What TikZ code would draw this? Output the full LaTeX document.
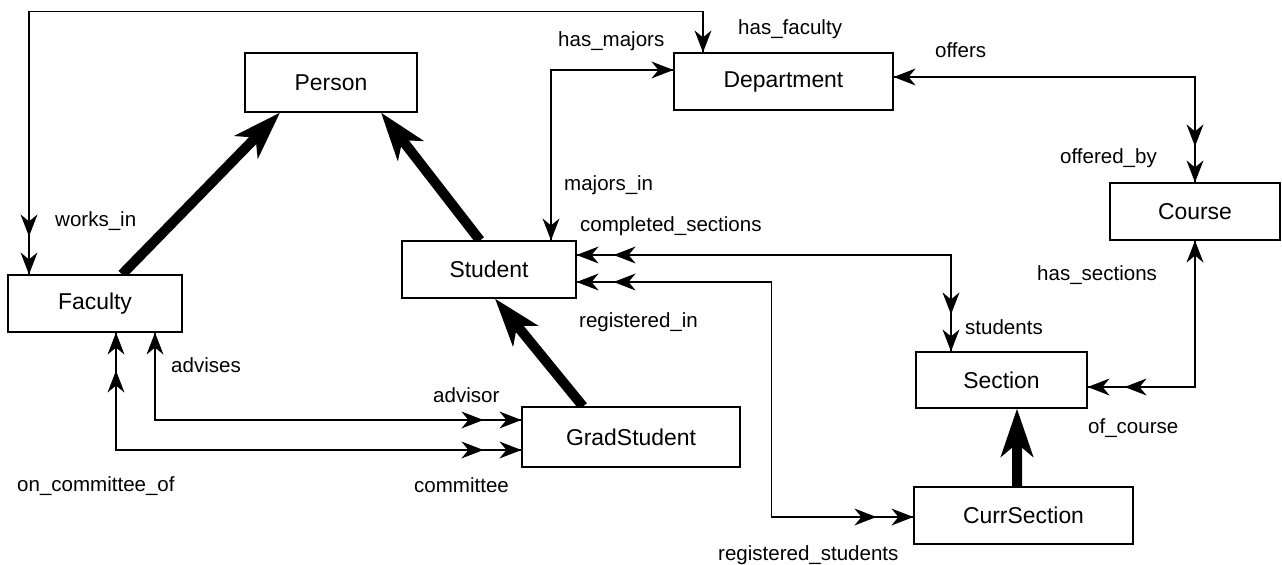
\documentclass[tikz,border=0pt]{standalone}
\usepackage{fontspec}
\setmainfont{Liberation Sans}
\usetikzlibrary{arrows.meta,backgrounds}
\newcommand\labfont{\fontsize{20.6}{24}\selectfont}
\newcommand\boxfont{\fontsize{23}{27}\selectfont}
\tikzset{
  hR/.pic={\fill (0,0) -- (-22,-8.5) -- (-15,0) -- (-22,8.5) -- cycle;},
  hL/.pic={\fill (0,0) -- (22,-8.5) -- (15,0) -- (22,8.5) -- cycle;},
  hD/.pic={\fill (0,0) -- (-8.5,-22) -- (0,-15) -- (8.5,-22) -- cycle;},
  hU/.pic={\fill (0,0) -- (-8.5,22) -- (0,15) -- (8.5,22) -- cycle;},
  box/.style={draw, line width=1.2bp, fill=white, inner sep=0pt, font=\boxfont},
  lab/.style={font=\labfont, inner sep=0pt, anchor=base west},
  conn/.style={line width=1.1bp},
  isa/.style={line width=10bp, arrows={-Stealth[length=48pt,width=32pt,inset=13pt]}},
}
\begin{document}
\begin{tikzpicture}[x=1bp,y=-1bp]
\useasboundingbox (0,0) rectangle (1282,565);
% boxes
\node[box, minimum width=172bp, minimum height=59bp] (person) at (331,82.5) {Person};
\node[box, minimum width=219bp, minimum height=57bp] (dept) at (783.5,81.5) {Department};
\node[box, minimum width=170bp, minimum height=57bp] (course) at (1195,211.5) {Course};
\node[box, minimum width=174bp, minimum height=57bp] (faculty) at (95,303.5) {Faculty};
\node[box, minimum width=174bp, minimum height=57bp] (student) at (489,269.5) {Student};
\node[box, minimum width=218bp, minimum height=60bp] (grad) at (631,437) {GradStudent};
\node[box, minimum width=171bp, minimum height=56bp] (section) at (1001.5,380) {Section};
\node[box, minimum width=219bp, minimum height=57bp] (curr) at (1023.5,515.5) {CurrSection};

\begin{scope}[on background layer]
% isa arrows
\draw[isa] ([xshift=27bp]faculty.north) -- ([xshift=-51bp]person.south);
\draw[isa] ([xshift=-9bp]student.north) -- ([xshift=50bp]person.south);
\draw[isa] ([xshift=-48bp]grad.north) -- ([xshift=6bp]student.south);
\draw[isa] ([xshift=-6.5bp]curr.north) -- ([xshift=15.5bp]section.south);
% relationships
\draw[conn] ([xshift=-80.5bp]dept.north) -- ++(0,-41) -| ([xshift=-66bp]faculty.north);
\draw[conn] ([xshift=62bp]student.north) |- ([yshift=11.5bp]dept.west);
\draw[conn] ([yshift=4.5bp]dept.east) -| (course.north);
\draw[conn] (course.south) |- ([yshift=-7bp]section.east);
\draw[conn] ([yshift=14.5bp]student.east) -| ([xshift=-50.5bp]section.north);
\draw[conn] ([yshift=-12.5bp]student.east) -- ++(195,0) |- ([yshift=-1.5bp]curr.west);
\draw[conn] ([xshift=60bp]faculty.south) |- ([yshift=17bp]grad.west);
\draw[conn] ([xshift=21bp]faculty.south) |- ([yshift=-13bp]grad.west);
\end{scope}

% arrowheads
\pic at ([xshift=-80.5bp]dept.north) {hD};
\pic at ([xshift=-66bp]faculty.north) {hD};
\pic at ([xshift=-66bp,yshift=38bp]faculty.north) {hD};
\pic at ([xshift=62bp]student.north) {hD};
\pic at ([yshift=11.5bp]dept.west) {hR};
\pic at ([yshift=4.5bp]dept.east) {hL};
\pic at (course.north) {hD};
\pic at ([yshift=36bp]course.north) {hD};
\pic at (course.south) {hU};
\pic at ([yshift=-7bp]section.east) {hL};
\pic at ([xshift=37bp,yshift=-7bp]section.east) {hL};
\pic at ([yshift=14.5bp]student.east) {hL};
\pic at ([xshift=37bp,yshift=14.5bp]student.east) {hL};
\pic at ([xshift=-50.5bp]section.north) {hD};
\pic at ([xshift=-50.5bp,yshift=37bp]section.north) {hD};
\pic at ([yshift=-12.5bp]student.east) {hL};
\pic at ([xshift=37bp,yshift=-12.5bp]student.east) {hL};
\pic at ([yshift=-1.5bp]curr.west) {hR};
\pic at ([xshift=-37bp,yshift=-1.5bp]curr.west) {hR};
\pic at ([xshift=60bp]faculty.south) {hU};
\pic at ([yshift=17bp]grad.west) {hR};
\pic at ([xshift=-38bp,yshift=17bp]grad.west) {hR};
\pic at ([xshift=21bp]faculty.south) {hU};
\pic at ([xshift=21bp,yshift=-38bp]faculty.south) {hU};
\pic at ([yshift=-13bp]grad.west) {hR};
\pic at ([xshift=-38bp,yshift=-13bp]grad.west) {hR};

% labels
\node[lab] (l1) at (738,35) {has\_faculty};
\node[lab] (l2) at (558,47) {has\_majors};
\node[lab] (l3) at (564,191) {majors\_in};
\node[lab] (l4) at (935,58) {offers};
\node[lab] (l5) at (1060,164) {offered\_by};
\node[lab] (l6) at (55,227) {works\_in};
\node[lab] (l7) at (171,373) {advises};
\node[lab] (l8) at (17,491) {on\_committee\_of};
\node[lab] (l9) at (414,492) {committee};
\node[lab] (l10) at (433,402) {advisor};
\node[lab] (l11) at (580,232) {completed\_sections};
\node[lab] (l12) at (579,328) {registered\_in};
\node[lab] (l13) at (965,335) {students};
\node[lab] (l14) at (1037,281) {has\_sections};
\node[lab] (l15) at (1088,433) {of\_course};
\node[lab] (l16) at (718,560) {registered\_students};
\end{tikzpicture}
\end{document}
